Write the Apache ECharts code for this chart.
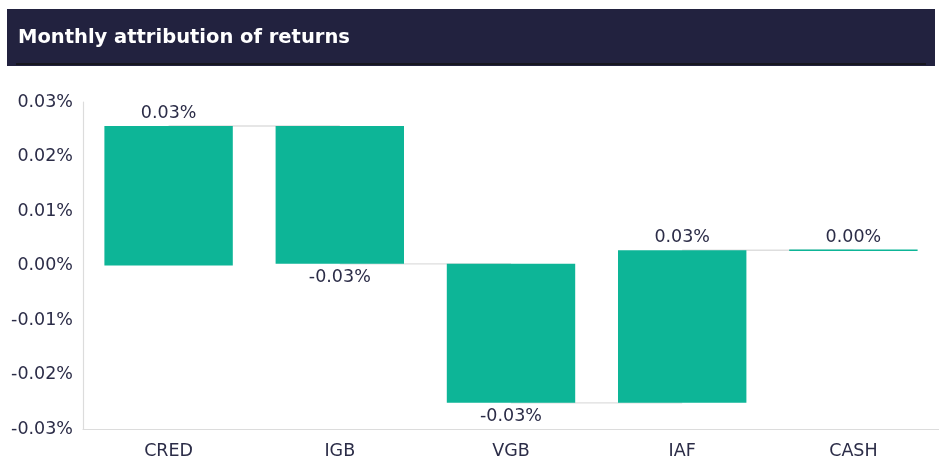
<!DOCTYPE html>
<html>
<head>
<meta charset="utf-8">
<script src="https://cdn.jsdelivr.net/npm/echarts@6/dist/echarts.min.js"></script>
<style>
html,body{margin:0;padding:0;background:#fff;}
#chart{width:939px;height:466px;}
</style>
</head>
<body>
<div id="chart"></div>
<script>
// ---- data (values in percent) ----
const title = 'Monthly attribution of returns';
const categories = ['CRED', 'IGB', 'VGB', 'IAF', 'CASH'];
const changes = [0.0256, -0.0253, -0.0255, 0.0280, 0.0000];
const yMin = -0.03;
const yMax = 0.03;
const yStep = 0.01;

// ---- derived waterfall levels ----
const starts = [];
const ends = [];
let run = 0;
changes.forEach(function (c) { starts.push(run); run += c; ends.push(run); });

const TEAL = '#0db597';
const TEXT = '#2b2c47';
const FONT = 'DejaVu Sans';
const FS = 17.5;

function fmt(v) {
  const r = Math.round(v * 100) / 100;
  return (r === 0 ? 0 : r).toFixed(2) + '%';
}

const chart = echarts.init(document.getElementById('chart'), null, {renderer: 'canvas'});

chart.setOption({
  animation: false,
  backgroundColor: '#ffffff',
  graphic: [
    {type: 'rect', left: 7, top: 9, shape: {width: 928, height: 57}, style: {fill: '#22223f'}, z: 10},
    {type: 'rect', left: 16, top: 63, shape: {width: 910, height: 2}, style: {fill: '#17171f'}, z: 11},
    {type: 'text', left: 18, top: 28, style: {text: title, fill: '#ffffff', font: 'bold 19.5px "' + FONT + '"'}, z: 12}
  ],
  grid: {left: 83, right: 0, top: 102, bottom: 37, containLabel: false},
  xAxis: {
    type: 'category',
    data: categories,
    axisLine: {show: true, onZero: false, lineStyle: {color: '#dcdcdc', width: 1.2}},
    axisTick: {show: false},
    axisLabel: {color: TEXT, fontFamily: FONT, fontSize: FS, margin: 13}
  },
  yAxis: {
    type: 'value',
    min: yMin, max: yMax, interval: yStep,
    axisLine: {show: true, lineStyle: {color: '#dcdcdc', width: 1.2}},
    axisTick: {show: false},
    splitLine: {show: false},
    axisLabel: {color: TEXT, fontFamily: FONT, fontSize: FS, margin: 10,
      formatter: function (v) { return (Math.abs(v) < 1e-9 ? 0 : v).toFixed(2) + '%'; }}
  },
  series: [
    {
      type: 'custom',
      z: 1,
      data: ends.slice(0, ends.length - 1).map(function (v, i) { return [i, v]; }),
      encode: {x: 0, y: 1},
      renderItem: function (params, api) {
        const i = api.value(0);
        const v = api.value(1);
        const a = api.coord([i, v]);
        const b = api.coord([i + 1, v]);
        return {type: 'line', shape: {x1: a[0], y1: a[1], x2: b[0], y2: b[1]},
          style: {stroke: '#dedede', lineWidth: 1.3}};
      }
    },
    {
      type: 'custom',
      z: 2,
      data: categories.map(function (c, i) { return [i, starts[i], ends[i], changes[i]]; }),
      encode: {x: 0, y: [1, 2]},
      renderItem: function (params, api) {
        const i = api.value(0);
        const s = api.value(1);
        const e = api.value(2);
        const chg = api.value(3);
        const p0 = api.coord([i, s]);
        const p1 = api.coord([i, e]);
        const w = api.size([1, 0])[0] * 0.75;
        let y = Math.min(p0[1], p1[1]);
        let h = Math.abs(p1[1] - p0[1]);
        if (h < 1.5) { h = 1.5; y = p1[1] - 0.75; }
        const up = chg >= 0;
        return {
          type: 'group',
          children: [
            {type: 'rect', shape: {x: p0[0] - w / 2, y: y, width: w, height: h}, style: {fill: TEAL}},
            {type: 'text', style: {
              text: fmt(chg), x: p0[0], y: up ? y - 3.5 : y + h + 5,
              textAlign: 'center', textVerticalAlign: up ? 'bottom' : 'top',
              fill: TEXT, font: FS + 'px "' + FONT + '"'}}
          ]
        };
      }
    }
  ]
});
</script>
</body>
</html>
